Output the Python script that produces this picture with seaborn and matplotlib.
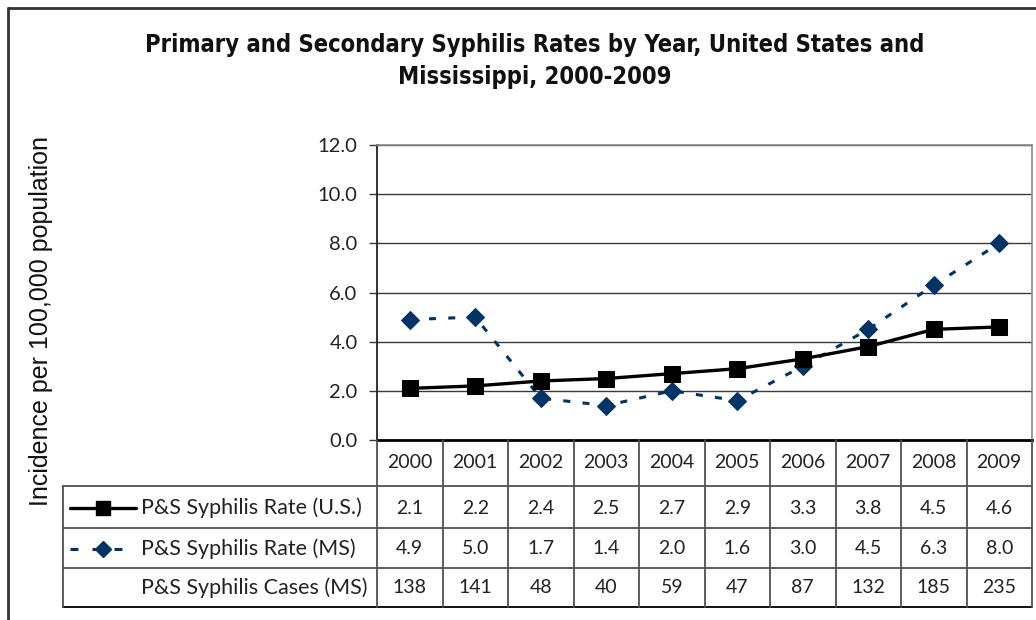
import matplotlib
matplotlib.use("Agg")
import matplotlib.pyplot as plt
import seaborn as sns
import pandas as pd
from matplotlib.lines import Line2D

# ---- data ----
years = ["2000", "2001", "2002", "2003", "2004", "2005", "2006", "2007", "2008", "2009"]
us_rate = [2.1, 2.2, 2.4, 2.5, 2.7, 2.9, 3.3, 3.8, 4.5, 4.6]
ms_rate = [4.9, 5.0, 1.7, 1.4, 2.0, 1.6, 3.0, 4.5, 6.3, 8.0]
ms_cases = [138, 141, 48, 40, 59, 47, 87, 132, 185, 235]
row_labels = ["P&S Syphilis Rate (U.S.)", "P&S Syphilis Rate (MS)", "P&S Syphilis Cases (MS)"]
y_ticks = [0.0, 2.0, 4.0, 6.0, 8.0, 10.0, 12.0]
title = "Primary and Secondary Syphilis Rates by Year, United States and\nMississippi, 2000-2009"
ylabel = "Incidence per 100,000 population"

sns.set_theme(style="white")
plt.rcParams["font.family"] = ["Lato", "DejaVu Sans"]

W, H = 1036, 620
fig = plt.figure(figsize=(W / 100, H / 100), dpi=100)
fig.patch.set_facecolor("white")


def rect(x0, y0, x1, y1):
    return [x0 / W, 1 - y1 / H, (x1 - x0) / W, (y1 - y0) / H]


US_COLOR = "black"
MS_COLOR = "#003366"
GRID = "#3a3a3a"
CELL = "#505050"
TXT = "#222222"

df = pd.DataFrame({"idx": range(len(years)), "year": years,
                   "us": us_rate, "ms": ms_rate})

# ---- main plot ----
ax = fig.add_axes(rect(377, 145, 1032, 440))
sns.lineplot(data=df, x="idx", y="us", ax=ax, color=US_COLOR, lw=2.4,
             marker="s", markersize=12, markeredgecolor=US_COLOR, zorder=4)
sns.lineplot(data=df, x="idx", y="ms", ax=ax, color=MS_COLOR, lw=2.2,
             marker="D", markersize=9, markeredgecolor=MS_COLOR, zorder=3,
             dashes=False)
ax.lines[-1].set_dashes((2.3, 4.0))
ax.set_xlim(-0.5, len(years) - 0.5)
ax.set_ylim(0, 12)
ax.set_yticks(y_ticks)
ax.set_yticklabels([f"{t:.1f}" for t in y_ticks], fontsize=14.5, color=TXT)
ax.set_xticks([])
ax.set_xlabel("")
ax.set_ylabel("")
ax.grid(axis="y", color=GRID, lw=1.0)
ax.set_axisbelow(True)
ax.tick_params(axis="y", which="both", left=True, length=6, width=1, color=GRID, pad=8)
for s in ["top", "right"]:
    ax.spines[s].set_color("#888888")
    ax.spines[s].set_linewidth(1.2)
ax.spines["left"].set_color("#222222")
ax.spines["left"].set_linewidth(1.3)
ax.spines["bottom"].set_color("black")
ax.spines["bottom"].set_linewidth(2.0)

# ---- data table ----
tx = fig.add_axes(rect(63, 440, 1032, 607))
colw = 65.5
xl = -0.5 - (377 - 63) / colw
tx.set_xlim(xl, len(years) - 0.5)
tx.set_ylim(607, 440)
tx.axis("off")

def px(x):
    return -0.5 + (x - 377) / colw

row_lines = [486, 528, 568, 607]
row_centers = [463, 508, 549, 588]
for i, y in enumerate(row_lines):
    tx.plot([xl, len(years) - 0.5], [y, y], color=CELL if i != 3 else "black",
            lw=1.3, clip_on=False)
for i in range(len(years) + 1):
    tx.plot([i - 0.5, i - 0.5], [440, 607], color=CELL, lw=1.3, clip_on=False)
tx.plot([xl, xl], [486, 607], color=CELL, lw=1.3, clip_on=False)

fs = 14
for i, yr in enumerate(years):
    tx.text(i, row_centers[0], yr, ha="center", va="center", fontsize=fs, color=TXT)
    tx.text(i, row_centers[1], f"{us_rate[i]:.1f}", ha="center", va="center", fontsize=fs, color=TXT)
    tx.text(i, row_centers[2], f"{ms_rate[i]:.1f}", ha="center", va="center", fontsize=fs, color=TXT)
    tx.text(i, row_centers[3], f"{ms_cases[i]}", ha="center", va="center", fontsize=fs, color=TXT)

for j, lab in enumerate(row_labels):
    tx.text(px(141), row_centers[j + 1], lab, ha="left", va="center",
            fontsize=15.5, color=TXT)

# legend keys
tx.add_line(Line2D([px(70), px(136)], [row_centers[1]] * 2, color=US_COLOR, lw=2.4))
tx.add_line(Line2D([px(103)], [row_centers[1]], color=US_COLOR, marker="s",
                   markersize=10, lw=0))
tx.add_line(Line2D([px(70), px(136)], [row_centers[2]] * 2, color=MS_COLOR, lw=2.2,
                   dashes=(2.6, 4.6)))
tx.add_line(Line2D([px(103)], [row_centers[2]], color=MS_COLOR, marker="D",
                   markersize=8, lw=0))

# ---- title and y label ----
fig.text(535 / W, 1 - 61 / H, title, ha="center", va="center", fontsize=17,
         family=["DejaVu Sans"], fontstretch="condensed", fontweight="bold",
         linespacing=1.45, color="#111111")
fig.text(41 / W, 1 - 321 / H, ylabel, rotation=90, ha="center", va="center",
         fontsize=18, family=["Liberation Sans", "DejaVu Sans"], color="#111111")

# ---- outer border ----
fig.add_artist(Line2D([8 / W, 1.0], [1 - 8 / H] * 2, color="#333333", lw=2,
                      transform=fig.transFigure))
fig.add_artist(Line2D([8 / W, 8 / W], [0, 1 - 8 / H], color="#333333", lw=2,
                      transform=fig.transFigure))

fig.savefig("out.png", dpi=100, facecolor="white")
